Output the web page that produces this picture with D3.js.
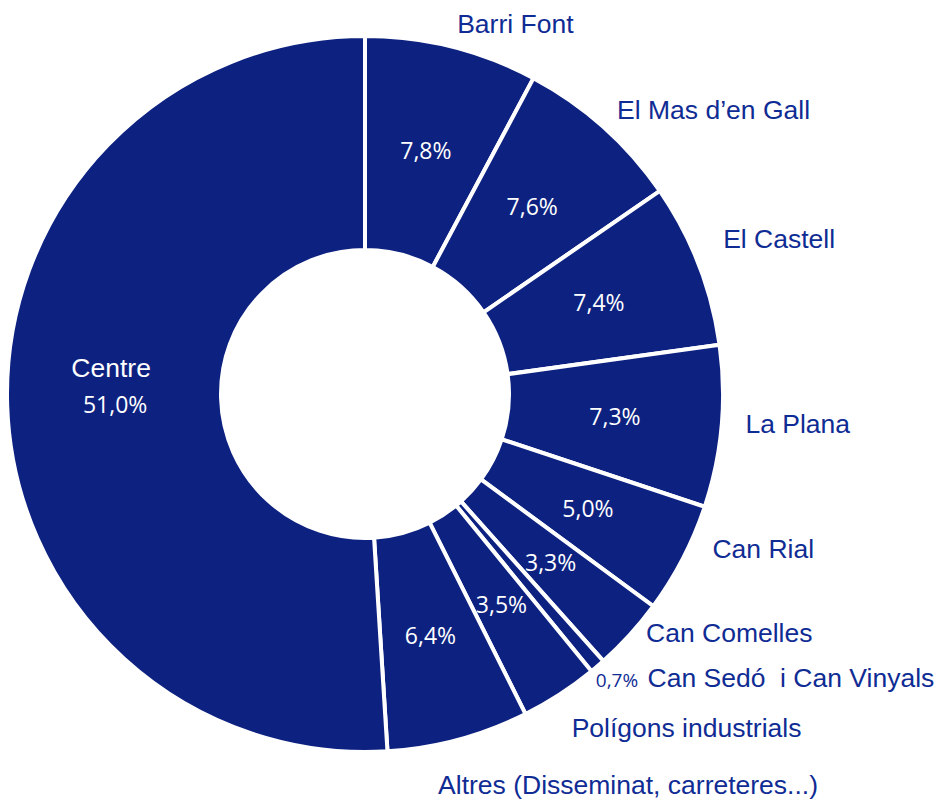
<!DOCTYPE html>
<html>
<head>
<meta charset="utf-8">
<script src="https://cdn.jsdelivr.net/npm/d3@7"></script>
<style>
  body { margin: 0; background: #fff; }
  .name { font-family: "Liberation Sans", Arial, sans-serif; font-size: 26.5px; fill: #0f2c94; white-space: pre; }
  .pct { font-family: "Open Sans", sans-serif; font-size: 23px; fill: #fff; }
</style>
</head>
<body>
<svg width="942" height="800"></svg>
<script>
// Donut chart of districts, percentages
var districts = ["Barri Font", "El Mas d\u2019en Gall", "El Castell", "La Plana", "Can Rial",
                 "Can Comelles", "Can Sed\u00f3  i Can Vinyals", "Pol\u00edgons industrials",
                 "Altres (Disseminat, carreteres...)", "Centre"];
var shares = [7.8, 7.6, 7.4, 7.3, 5.0, 3.3, 0.7, 3.5, 6.4, 51.0];

var svg = d3.select("svg"),
    cx = 365, cy = 394,
    outerR = 358, innerR = 144,
    labelR = 380;

// label nudges (Excel placed them by hand)
var nudge = [[0, 0], [-1, 0], [4, -16], [2, -4], [10, -19], [0, -16], [-16, -4], [0, 16], [-26, 25], [0, 0]];

var fmt = d3.formatLocale({decimal: ",", thousands: ".", grouping: [3], currency: ["", "\u20ac"]}).format(".1f");

var data = districts.map(function(d, i) { return {name: d, value: shares[i], i: i}; });

var pie = d3.pie()
    .sort(null)
    .value(function(d) { return d.value; });

var arc = d3.arc().innerRadius(innerR).outerRadius(outerR);
var midArc = d3.arc().innerRadius(innerR).outerRadius(356 + 146 - innerR); // centroid at ~251

var g = svg.append("g").attr("transform", "translate(" + cx + "," + cy + ")");
var arcs = pie(data);

g.selectAll("path.slice")
  .data(arcs)
  .enter().append("path")
  .attr("class", "slice")
  .attr("d", arc)
  .attr("fill", "#0d2280")
  .attr("stroke", "#fff")
  .attr("stroke-width", 4)
  .attr("stroke-linejoin", "miter");

// percentages inside the ring (not for the tiny slice and Centre)
g.selectAll("text.pct-in")
  .data(arcs.filter(function(d) { return d.data.value >= 1 && d.data.name !== "Centre"; }))
  .enter().append("text")
  .attr("class", "pct")
  .attr("text-anchor", "middle")
  .attr("dy", "0.35em")
  .attr("transform", function(d) { return "translate(" + midArc.centroid(d) + ")"; })
  .text(function(d) { return fmt(d.data.value) + "%"; });

// outer labels
arcs.forEach(function(d) {
  var i = d.data.i;
  if (d.data.name === "Centre") {
    var c = midArc.centroid(d);
    g.append("text")
      .attr("class", "name")
      .style("fill", "#fff")
      .attr("text-anchor", "middle")
      .attr("x", c[0] - 3).attr("y", c[1] - 25)
      .text(d.data.name);
    g.append("text")
      .attr("class", "pct")
      .attr("text-anchor", "middle")
      .attr("x", c[0] + 1).attr("y", c[1] + 11)
      .text(fmt(d.data.value) + "%");
    return;
  }
  var a = (d.startAngle + d.endAngle) / 2;
  var x = labelR * Math.sin(a) + nudge[i][0],
      y = -labelR * Math.cos(a) + nudge[i][1];
  var t = g.append("text")
    .attr("class", "name")
    .attr("x", x).attr("y", y)
    .attr("dy", 8);
  if (d.data.value < 1) {
    t.append("tspan")
      .style("font-family", "'Open Sans', sans-serif")
      .style("font-size", "19px")
      .text(fmt(d.data.value) + "%");
    t.append("tspan").attr("dx", 2).text(" " + d.data.name);
  } else {
    t.text(d.data.name);
  }
});
</script>
</body>
</html>
